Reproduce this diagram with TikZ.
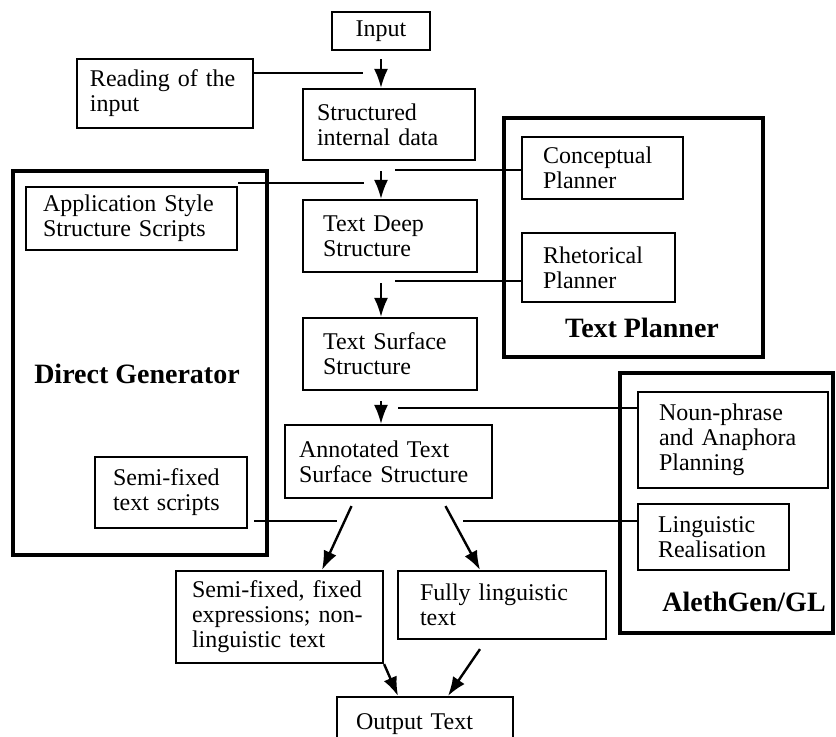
\documentclass[tikz,border=0pt]{standalone}
\usepackage{fontspec}
\setmainfont{Liberation Serif}
\usetikzlibrary{arrows.meta, calc, positioning}
\tikzset{
    blk/.style n args={3}{draw, line width=1.1pt, rectangle, align=left, font=\fontsize{12}{12.5}\selectfont, text width=#1, inner xsep=#2, inner ysep=0pt, minimum height=#3},
    grp/.style n args={2}{draw, line width=2.4pt, rectangle, inner sep=0pt, minimum width=#1, minimum height=#2},
    grpLabel/.style={font=\fontsize{14}{16}\selectfont\bfseries},
    flow/.style={-{Latex[length=9.5pt, width=7pt]}, line width=1pt},
    feed/.style={line width=0.9pt},
}

\begin{document}
\begin{tikzpicture}[x=0.5pt, y=-0.5pt]
    \useasboundingbox (0,0) rectangle (836,737);

    % module frames
    \node[grp={127pt}{192pt}] (dgen) at (140,363) {};
    \node[grp={129.5pt}{119.5pt}] (tplan) at (633.5,237.5) {};
    \node[grp={106.5pt}{130pt}] (agen) at (726.5,503) {};
    \node[grpLabel] (dgenLbl) at (137,374) {Direct Generator};
    \node[grpLabel] (tplanLbl) at (642,328) {Text Planner};
    \node[grpLabel] (agenLbl) at (744,602) {AlethGen/GL};

    % main chain
    \node[blk={49pt}{0pt}{19pt}, align=center] (inp) at (381,31) {Input};
    \node[blk={75pt}{6.5pt}{34.5pt}] (rdg) at (165,93.5) {Reading of the\\input};
    \node[blk={72pt}{7pt}{35.5pt}] (sid) at (389,124.5) {Structured\\internal data};
    \node[blk={67pt}{10pt}{36pt}] (tds) at (390,236) {Text Deep\\Structure};
    \node[blk={67pt}{10pt}{36pt}] (tss) at (390,354) {Text Surface\\Structure};
    \node[blk={89.5pt}{7pt}{36.5pt}] (ats) at (388.5,461.5) {Annotated Text\\Surface Structure};
    \node[blk={87.5pt}{8pt}{46pt}] (sfx) at (279.5,617) {Semi-fixed, fixed\\expressions; non-\\linguistic text};
    \node[blk={82pt}{11pt}{34pt}] (flt) at (502,605) {Fully linguistic\\text};
    \node[blk={69pt}{9.5pt}{27pt}] (out) at (425,724) {Output Text};

    % module parts
    \node[blk={88.5pt}{8.5pt}{31.5pt}] (app) at (131.5,218.5) {Application Style\\Structure Scripts};
    \node[blk={58pt}{9pt}{35.5pt}] (sts) at (171,492.5) {Semi-fixed\\text scripts};
    \node[blk={59.5pt}{10.5pt}{31pt}] (cpl) at (602.5,168) {Conceptual\\Planner};
    \node[blk={55.5pt}{10.5pt}{34.5pt}] (rpl) at (598.5,267.5) {Rhetorical\\Planner};
    \node[blk={74pt}{10.5pt}{48pt}] (npa) at (733,440) {Noun-phrase\\and Anaphora\\Planning};
    \node[blk={55.5pt}{10pt}{33pt}] (lrl) at (713.5,537) {Linguistic\\Realisation};

    % where the side lines stop
    \coordinate (jRd) at (363,73);
    \coordinate (jCp) at (395,170);
    \coordinate (jAp) at (364,183);
    \coordinate (jRh) at (395,281);
    \coordinate (jNp) at (398,408);
    \coordinate (jSt) at (337,521);
    \coordinate (jLr) at (463,521);

    \draw[flow, shorten <=4pt] (inp.south) -- (inp.south |- sid.north);
    \draw[flow, shorten <=5pt] (inp.south |- sid.south) -- (inp.south |- tds.north);
    \draw[flow, shorten <=5pt] (inp.south |- tds.south) -- (inp.south |- tss.north);
    \draw[flow, shorten <=5pt] (inp.south |- tss.south) -- (inp.south |- ats.north);

    \draw[feed] (rdg.east |- jRd) -- (jRd);
    \draw[feed] (cpl.west |- jCp) -- (jCp);
    \draw[feed] (app.east |- jAp) -- (jAp);
    \draw[feed] (rpl.west |- jRh) -- (jRh);
    \draw[feed] (npa.west |- jNp) -- (jNp);
    \draw[feed] (lrl.west |- jLr) -- (jLr);
    \draw[feed, shorten <=3pt] (sts.east |- jSt) -- (jSt);

    \draw[flow, line width=1.2pt] ($(ats.south)+(-37,7)$) -- ($(sfx.north)+(42.5,0)$);
    \draw[flow, line width=1.2pt] ($(ats.south)+(57,7)$) -- ($(flt.north)+(-22,0)$);
    \draw[flow, line width=1.2pt] (sfx.south east) -- ($(out.north)+(-27,0)$);
    \draw[flow, line width=1.2pt] ($(flt.south)+(-22,9)$) -- ($(out.north)+(23,0)$);

\end{tikzpicture}
\end{document}
